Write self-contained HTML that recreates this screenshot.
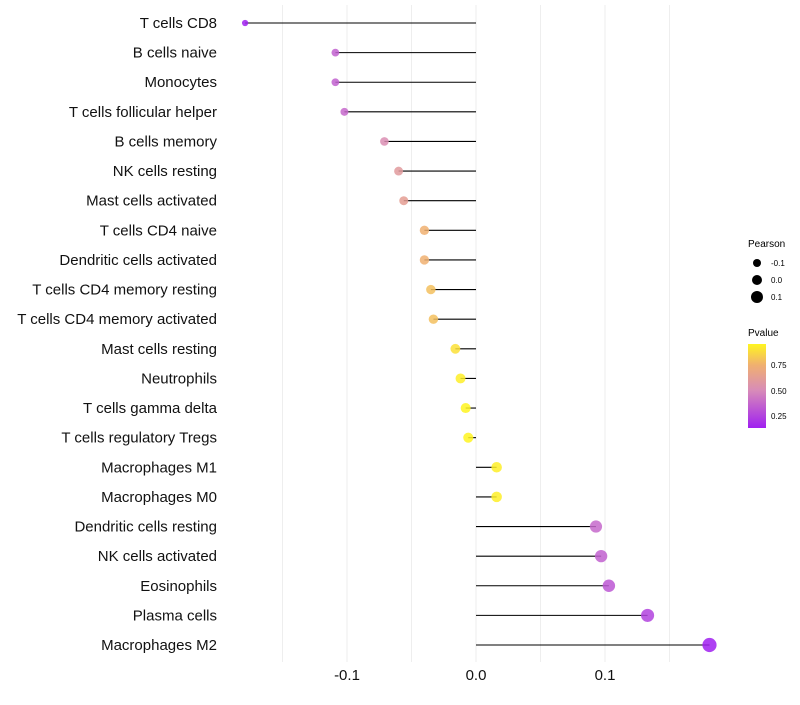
<!DOCTYPE html>
<html><head><meta charset="utf-8"><style>
body{margin:0;background:#fff;font-family:"Liberation Sans",sans-serif}
svg text{font-family:"Liberation Sans",sans-serif}
</style></head><body>
<svg id="chart" width="800" height="700" xmlns="http://www.w3.org/2000/svg">
<g id="grid"></g><g id="marks"></g><g id="labels"></g><g id="xaxis"></g>
<g>
<text x="748" y="247" font-size="10">Pearson</text>
<circle cx="757" cy="263" r="4" fill="#000"/><text x="771" y="266" font-size="8">-0.1</text>
<circle cx="757" cy="280" r="5" fill="#000"/><text x="771" y="283" font-size="8">0.0</text>
<circle cx="757" cy="297" r="6" fill="#000"/><text x="771" y="300" font-size="8">0.1</text>
</g>
<g>
<defs><linearGradient id="pg" x1="0" y1="1" x2="0" y2="0">
<stop offset="0" stop-color="#A020F0"/><stop offset="0.45" stop-color="#D88CB8"/><stop offset="0.75" stop-color="#F0B070"/><stop offset="1" stop-color="#FFF520"/></linearGradient></defs>
<text x="748" y="336" font-size="10">Pvalue</text>
<rect x="748" y="344" width="18" height="84" fill="url(#pg)"/>
<text x="771" y="368" font-size="8">0.75</text>
<text x="771" y="394" font-size="8">0.50</text>
<text x="771" y="419" font-size="8">0.25</text>
</g>
</svg>
<script>
const categories=["T cells CD8","B cells naive","Monocytes","T cells follicular helper","B cells memory","NK cells resting","Mast cells activated","T cells CD4 naive","Dendritic cells activated","T cells CD4 memory resting","T cells CD4 memory activated","Mast cells resting","Neutrophils","T cells gamma delta","T cells regulatory  Tregs","Macrophages M1","Macrophages M0","Dendritic cells resting","NK cells activated","Eosinophils","Plasma cells","Macrophages M2"];
const pearson=[-0.179,-0.109,-0.109,-0.102,-0.071,-0.060,-0.056,-0.040,-0.040,-0.035,-0.033,-0.016,-0.012,-0.008,-0.006,0.016,0.016,0.093,0.097,0.103,0.133,0.181];
const pvalue=[0.13,0.35,0.35,0.38,0.52,0.6,0.63,0.75,0.75,0.8,0.8,0.9,0.94,0.96,0.96,0.94,0.94,0.38,0.35,0.32,0.25,0.13];
const xTicks=[-0.1,0,0.1];
const xTickLabels=["-0.1","0.0","0.1"];
const NS="http://www.w3.org/2000/svg";
const x=v=>476+v*1290;
const y=i=>23+i*(645-23)/21;
function mk(t,a,p){const e=document.createElementNS(NS,t);for(const k in a)e.setAttribute(k,a[k]);p.appendChild(e);return e;}
function lerp(a,b,t){return a.map((c,i)=>Math.round(c+(b[i]-c)*t));}
function color(p){const t=Math.max(0,Math.min(1,(p-0.13)/(0.96-0.13)));
const stops=[[0,[160,32,240]],[0.45,[216,140,184]],[0.75,[240,176,112]],[1,[255,245,32]]];
for(let i=1;i<stops.length;i++){if(t<=stops[i][0]){const u=(t-stops[i-1][0])/(stops[i][0]-stops[i-1][0]);return "rgb("+lerp(stops[i-1][1],stops[i][1],u).join(",")+")";}}
return "rgb(255,245,32)";}
const grid=document.getElementById('grid'),marks=document.getElementById('marks'),labels=document.getElementById('labels'),xa=document.getElementById('xaxis');
[-0.15,-0.1,-0.05,0,0.05,0.1,0.15].forEach(v=>{const g=mk('line',{x1:x(v),x2:x(v),y1:5,y2:662,stroke:'#eeeeee','stroke-width':1},grid);

});
categories.forEach((c,i)=>{
const l=mk('line',{x1:x(0),x2:x(pearson[i]),y1:y(i),y2:y(i),stroke:'#000','stroke-width':1.1},marks);


const r=Math.max(1.8,5.1+11*pearson[i]);
const d=mk('circle',{cx:x(pearson[i]),cy:y(i),r:r,fill:color(pvalue[i]),'fill-opacity':0.85},marks);


const t=mk('text',{x:217,y:y(i)+5,'text-anchor':'end','font-size':15,fill:'#111'},labels);t.textContent=c;

});
xTicks.forEach((v,i)=>{const t=mk('text',{x:x(v),y:680,'text-anchor':'middle','font-size':15,fill:'#111'},xa);t.textContent=xTickLabels[i];

});
</script>
</body></html>
